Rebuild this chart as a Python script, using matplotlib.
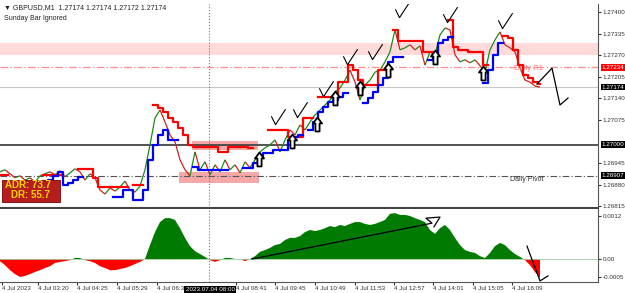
import numpy as np
import matplotlib.pyplot as plt
from matplotlib.path import Path
from matplotlib.collections import LineCollection

plt.rcParams['font.family'] = ['Liberation Sans', 'DejaVu Sans']

nan = np.nan

# close price sampled every 5 chart columns
close = [1.26919, 1.26925, 1.26913, 1.26901, 1.26907, 1.26894, 1.26901, 1.26888, 1.26907, 1.26913,
         1.26919, 1.26910, 1.26922, 1.26904, 1.26916, 1.26928, 1.26919, 1.26894, 1.26913, 1.26901,
         1.26864, 1.26852, 1.26870, 1.26861, 1.26873, 1.26891, 1.26864, 1.26858, 1.26876, 1.26925,
         1.27000, 1.27081, 1.27105, 1.27069, 1.27030, 1.27009, 1.26955, 1.26925, 1.26907, 1.26979,
         1.26925, 1.26949, 1.26910, 1.26940, 1.26919, 1.26955, 1.26925, 1.26940, 1.26916, 1.26949,
         1.26931, 1.26955, 1.26979, 1.26991, 1.27000, 1.27015, 1.26979, 1.27015, 1.27045, 1.27030,
         1.27060, 1.27045, 1.27069, 1.27090, 1.27105, 1.27120, 1.27135, 1.27159, 1.27171, 1.27195,
         1.27225, 1.27189, 1.27135, 1.27180, 1.27195, 1.27219, 1.27225, 1.27250, 1.27280, 1.27346,
         1.27286, 1.27292, 1.27301, 1.27286, 1.27298, 1.27240, 1.27280, 1.27271, 1.27331, 1.27352,
         1.27346, 1.27271, 1.27250, 1.27256, 1.27247, 1.27256, 1.27238, 1.27219, 1.27286, 1.27316,
         1.27340, 1.27301, 1.27292, 1.27280, 1.27232, 1.27195, 1.27189, 1.27177, 1.27174]

red_stop = [1.26910, 1.26910, nan, nan, nan, nan, nan, nan, nan, 1.26910,
            1.26910, 1.26910, 1.26910, nan, nan, nan, 1.26928, 1.26928, 1.26928, 1.26901,
            1.26873, 1.26873, 1.26873, 1.26873, 1.26873, 1.26873, nan, 1.26879, 1.26879, nan,
            nan, 1.27120, 1.27111, 1.27099, 1.27081, 1.27069, 1.27051, 1.27030, 1.27000, 1.26994,
            1.26994, 1.26994, 1.26994, 1.26994, 1.26979, 1.26979, 1.26994, 1.26994, 1.26994, 1.26994,
            1.26991, nan, nan, nan, 1.27045, 1.27045, 1.27045, 1.27045, 1.27024, 1.27024,
            1.27024, 1.27081, 1.27081, nan, 1.27144, 1.27144, 1.27144, 1.27144, 1.27189, 1.27189,
            1.27240, 1.27225, 1.27195, 1.27180, 1.27180, 1.27180, 1.27225, 1.27225, nan, 1.27346,
            1.27313, 1.27313, 1.27313, 1.27313, 1.27313, 1.27280, 1.27280, nan, nan, nan,
            1.27376, 1.27295, 1.27286, 1.27286, 1.27280, 1.27280, 1.27280, 1.27240, nan, nan,
            nan, 1.27328, 1.27322, 1.27286, 1.27240, 1.27210, 1.27201, 1.27189, 1.27183]

blue_stop = [nan, nan, 1.26855, 1.26855, 1.26855, 1.26855, 1.26855, 1.26873, 1.26873, 1.26879,
             1.26894, 1.26907, 1.26919, 1.26879, 1.26885, 1.26894, 1.26904, nan, nan, nan,
             nan, nan, nan, 1.26843, 1.26843, 1.26864, 1.26864, 1.26834, 1.26834, 1.26864,
             1.26955, 1.27000, 1.27030, 1.27045, 1.27015, 1.27015, nan, nan, nan, 1.26934,
             1.26925, 1.26925, 1.26925, 1.26925, 1.26925, 1.26925, nan, nan, nan, 1.26931,
             1.26931, 1.26946, 1.26964, 1.26976, 1.26976, 1.26985, 1.26985, 1.26985, 1.27015, 1.27024,
             1.27030, nan, 1.27045, 1.27069, 1.27099, 1.27114, 1.27129, 1.27135, 1.27144, 1.27156,
             nan, nan, nan, 1.27126, 1.27141, 1.27159, 1.27180, 1.27201, 1.27250, 1.27265,
             1.27265, nan, nan, nan, nan, nan, 1.27256, 1.27271, 1.27307, 1.27316,
             1.27325, nan, nan, nan, nan, nan, nan, 1.27186, 1.27225, 1.27271,
             1.27307, nan, nan, nan, nan, nan, nan, nan, nan]

# MACD (34,200,1) in units of 1e-4
macd_e4 = [-0.6, -1.7, -3.1, -4.2, -5.0, -4.7, -4.2, -3.6, -3.1, -2.5,
           -2.0, -1.1, -0.8, -0.6, -0.3, 0.3, 0.3, -0.3, -0.6, -1.1,
           -2.0, -2.5, -3.1, -3.1, -2.8, -2.5, -2.0, -1.4, -0.8, 0.0,
           3.9, 7.5, 10.3, 11.4, 11.4, 10.9, 8.6, 5.9, 3.6, 2.2,
           1.4, 0.6, -0.3, -0.8, -0.3, 0.3, 0.3, 0.0, 0.0, -0.6,
           0.0, 0.8, 2.0, 2.5, 3.1, 3.9, 4.2, 5.3, 5.9, 5.9,
           6.4, 7.5, 8.1, 7.8, 8.1, 8.6, 9.2, 8.9, 9.5, 9.2,
           9.8, 10.3, 10.3, 9.8, 9.5, 9.8, 10.3, 10.9, 12.6, 12.8,
           12.3, 12.3, 12.0, 11.4, 10.9, 10.3, 8.1, 7.0, 8.6, 9.5,
           8.1, 5.9, 3.9, 2.5, 2.0, 1.7, 0.8, 0.3, 1.7, 3.6,
           4.5, 3.9, 2.5, 1.4, 0.6, -0.3, -1.7, -3.6, -5.3]

# levels
daily_pivot = 1.26907
daily_r1 = 1.27234
round_level = 1.27000
last_price = 1.27174
zone_top, zone_bottom = 1.27307, 1.27271
box_upper = (1.26985, 1.27012)
box_lower = (1.26885, 1.26919)

price_ticks = [1.27400, 1.27335, 1.27270, 1.27205, 1.27140, 1.27075, 1.26945, 1.26880, 1.26815]
time_labels = ["4 Jul 2023", "4 Jul 03:20", "4 Jul 04:25", "4 Jul 05:29", "4 Jul 06:33",
               "4 Jul 08:41", "4 Jul 09:45", "4 Jul 10:49", "4 Jul 11:53", "4 Jul 12:57",
               "4 Jul 14:01", "4 Jul 15:05", "4 Jul 16:09"]
time_cols = [2, 38, 77, 117, 157, 236, 275, 315, 355, 394, 433, 473, 512]
cursor_col = 209

# hand drawn marks
arrow_cols = [259, 292, 317, 335, 360, 388, 435, 483]
arrow_price = [1.26958, 1.27012, 1.27063, 1.27141, 1.27171, 1.27225, 1.27265, 1.27216]
check_cols = [278, 300, 326, 350, 375, 402, 450, 505]
check_price = [1.27084, 1.27105, 1.27168, 1.27265, 1.27280, 1.27406, 1.27391, 1.27373]
hook_cols = [537, 552, 560, 568]
hook_price = [1.27183, 1.27231, 1.27120, 1.27141]
macd_line_cols = [252, 432, 426, 440, 434]
macd_line_e4 = [0.0, 10.0, 11.4, 11.7, 9.0]
macd_hook_cols = [527, 540, 548]
macd_hook_e4 = [3.6, -6.1, -4.7]

W, H = 625, 293
fig = plt.figure(figsize=(W / 100, H / 100), dpi=100)
ax = fig.add_axes([0, 1 - 208 / H, 598 / W, 204 / H])
axm = fig.add_axes([0, 1 - 282 / H, 598 / W, 73 / H], sharex=ax)

x = np.arange(len(close)) * 5
close = np.array(close)

# background levels
ax.axhspan(zone_bottom, zone_top, color='#ffdada', lw=0, zorder=0)
ax.fill_between([192, 258], *box_upper, color='#f6a8a8', lw=0, zorder=1)
ax.fill_between([179, 259], *box_lower, color='#f6a8a8', lw=0, zorder=1)
ax.axhline(daily_r1, color='#ff8c8c', lw=0.9, ls=(0, (6, 2, 1, 2)), zorder=1)
ax.axhline(daily_pivot, color='#555555', lw=0.8, ls=(0, (6, 2, 1, 2)), zorder=1)
ax.axhline(round_level, color='#444444', lw=1.3, zorder=1)
ax.axhline(last_price, color='#c8c8c8', lw=0.8, zorder=1)
ax.axvline(cursor_col, color='#777777', lw=0.8, ls=':', zorder=1)
axm.axvline(cursor_col, color='#777777', lw=0.8, ls=':', zorder=1)

# price bars
segs = [[(x[i - 1], close[i - 1]), (x[i], close[i])] for i in range(1, len(close))]
cols = ['#1a8a1a' if close[i] >= close[i - 1] else '#d02020' for i in range(1, len(close))]
ax.add_collection(LineCollection(segs, colors=cols, linewidths=0.9, zorder=3))

ax.plot(x, red_stop, color='#ff0000', lw=1.6, drawstyle='steps-mid', zorder=4)
ax.plot(x, blue_stop, color='#0000ff', lw=1.6, drawstyle='steps-mid', zorder=4)

ax.text(514, daily_r1 - 0.00004, "Daily R1", color='#ff7070', fontsize=5.5, va='center')
ax.text(510, daily_pivot - 0.00012, "Daily Pivot", color='#333333', fontsize=5, va='center')

# ADR panel
ax.add_patch(plt.Rectangle((0.004, 0.03), 0.097, 0.108, transform=ax.transAxes,
                           facecolor='#b41e1e', edgecolor='#7a0000', lw=0.6, zorder=5))
ax.text(0.008, 0.115, "ADR: 73.7", transform=ax.transAxes, color='#ffd200',
        fontsize=7, fontweight='bold', va='center', zorder=6)
ax.text(0.018, 0.062, "DR: 55.7", transform=ax.transAxes, color='#ffd200',
        fontsize=7, fontweight='bold', va='center', zorder=6)

# hollow arrows and check marks
arrow = Path([(0, 1), (-0.65, 0.15), (-0.3, 0.15), (-0.3, -1), (0.3, -1), (0.3, 0.15),
              (0.65, 0.15), (0, 1)], closed=True)
ax.plot(arrow_cols, arrow_price, ls='none', marker=arrow, markersize=10,
        markerfacecolor='white', markeredgecolor='black', markeredgewidth=1.3, zorder=7)
check = Path([(-0.6, 0.1), (-0.25, -0.6), (0.6, 0.7)])
ax.plot(check_cols, check_price, ls='none', marker=check, markersize=12,
        fillstyle='none', markeredgecolor='black', markeredgewidth=0.8, zorder=7)
ax.plot(hook_cols, hook_price, color='black', lw=0.9, zorder=7, clip_on=False)

ax.set_xlim(0, 598)
ax.set_ylim(1.26810, 1.27424)
ax.yaxis.tick_right()
ax.set_yticks(price_ticks)
ax.set_yticklabels([f"{p:.5f}" for p in price_ticks])
ax.yaxis.get_offset_text().set_visible(False)
ax.tick_params(axis='y', labelsize=4.5, length=2, pad=1.5, colors='#333333')
ax.tick_params(axis='x', bottom=False, labelbottom=False)

for lvl, bg in [(daily_r1, '#ff0000'), (last_price, '#000000'),
                (round_level, '#000000'), (daily_pivot, '#000000')]:
    ax.text(1.006, lvl, f"{lvl:.5f}", transform=ax.get_yaxis_transform(), fontsize=4.5,
            color='white', va='center', ha='left',
            bbox=dict(boxstyle='square,pad=0.15', fc=bg, ec='none'), clip_on=False)

for s in ['left', 'top']:
    ax.spines[s].set_visible(False)
ax.spines['right'].set_color('#555555')
ax.spines['bottom'].set_color('#444444')
ax.spines['bottom'].set_linewidth(1.5)

# MACD pane
m = np.array(macd_e4) * 1e-4
axm.fill_between(x, 0, m, where=m >= 0, color='#007a00', lw=0, interpolate=True)
axm.fill_between(x, 0, m, where=m <= 0, color='#ff0000', lw=0, interpolate=True)
axm.axhline(0, color='#9fd09f', lw=0.6)
axm.plot(macd_line_cols, np.array(macd_line_e4) * 1e-4, color='black', lw=0.9)
axm.plot(macd_hook_cols, np.array(macd_hook_e4) * 1e-4, color='black', lw=0.9, clip_on=False)
axm.set_ylim(-6.4e-4, 13.95e-4)
axm.yaxis.tick_right()
axm.set_yticks([0.0012, 0.0, -0.0005])
axm.set_yticklabels(["0.0012", "0.00", "-0.0005"])
axm.yaxis.get_offset_text().set_visible(False)
axm.tick_params(axis='y', labelsize=4.5, length=2, pad=1.5, colors='#333333')
axm.set_xticks(time_cols)
axm.set_xticklabels(time_labels)
axm.tick_params(axis='x', labelsize=4.5, length=2, pad=1, colors='#333333')
for lbl in axm.get_xticklabels():
    lbl.set_ha('left')
axm.text(cursor_col + 1, -0.075, "2023.07.04 08:00", transform=axm.get_xaxis_transform(),
         fontsize=4.5, color='white', ha='center', va='top',
         bbox=dict(boxstyle='square,pad=0.2', fc='black', ec='none'), clip_on=False)
axm.text(3, 0.92, "MACD (34,200,1) -0.0004 -0.0004 -0.0004", transform=axm.get_yaxis_transform(),
         fontsize=4.5, color='#333333', va='center')
axm.spines['left'].set_visible(False)
axm.spines['top'].set_visible(False)
axm.spines['right'].set_color('#555555')
axm.spines['bottom'].set_color('#555555')

fig.text(4 / W, 1 - 8 / H, "\u25bc GBPUSD,M1  1.27174 1.27174 1.27172 1.27174",
         fontsize=5, color='#222222', va='center')
fig.text(4 / W, 1 - 19 / H, "Sunday Bar Ignored", fontsize=5, color='#222222', va='center')

fig.savefig("out.png", dpi=100)
